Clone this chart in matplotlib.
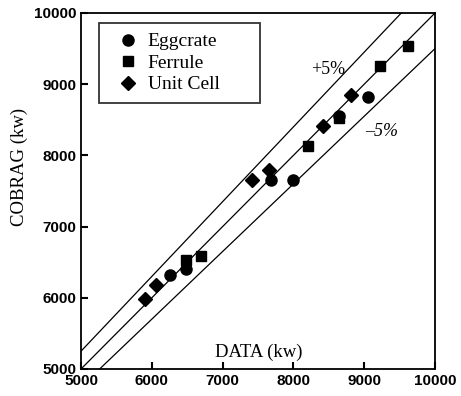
import matplotlib
matplotlib.use("Agg")
import matplotlib.pyplot as plt
import numpy as np

# Data (kW)
egg_x = [6250, 6480, 7690, 7990, 8650, 9060]
egg_y = [6320, 6410, 7650, 7650, 8550, 8820]
fer_x = [6490, 6700, 8200, 8640, 9230, 9620]
fer_y = [6530, 6590, 8130, 8520, 9260, 9530]
uc_x = [5900, 6060, 7410, 7660, 8420, 8810]
uc_y = [5980, 6180, 7660, 7800, 8410, 8850]

ticks = [5000, 6000, 7000, 8000, 9000, 10000]
ref_x = [5000, 10000]

serif = ["Liberation Serif", "DejaVu Serif"]
sans = ["Liberation Sans", "DejaVu Sans"]

fig = plt.figure(figsize=(4.61, 3.96), dpi=100)
ax = fig.add_axes([81/461, 1 - 369/396, (435-81)/461, (369-13)/396])

rx = np.array(ref_x, dtype=float)
ax.plot(rx, rx, color="black", lw=0.9)
ax.plot(rx, rx * 1.05, color="black", lw=0.9)
ax.plot(rx, rx * 0.95, color="black", lw=0.9)

ax.plot(egg_x, egg_y, "o", color="black", ms=8, label="Eggcrate", zorder=3)
ax.plot(fer_x, fer_y, "s", color="black", ms=7, label="Ferrule", zorder=3)
ax.plot(uc_x, uc_y, "D", color="black", ms=7, label="Unit Cell", zorder=3)

ax.set_xlim(5000, 10000)
ax.set_ylim(5000, 10000)
ax.set_xticks(ticks)
ax.set_yticks(ticks)
ax.tick_params(direction="in", length=5, width=1.5, labelsize=11)
for lab in ax.get_xticklabels() + ax.get_yticklabels():
    lab.set_family(sans)
    lab.set_fontweight("bold")
for s in ax.spines.values():
    s.set_linewidth(1.3)

ax.text(7515, 5240, "DATA (kw)", family=serif, fontsize=13.5, ha="center", va="center")
fig.text(19/461, 1 - 167/396, "COBRAG (kw)", family=serif, fontsize=13.5,
         rotation=90, ha="center", va="center")
ax.text(8490, 9210, "+5%", family=serif, fontsize=13, ha="center", va="center")
ax.text(9240, 8340, "\u20135%", family=serif, fontsize=13, style="italic",
        ha="center", va="center")

lx0 = (99 - 81) / 354
lw_ = (260 - 99) / 354
ly1 = 1 - (23 - 13) / 356
lh = (101 - 23) / 356
leg = ax.legend(loc="upper left", bbox_to_anchor=(lx0, ly1 - lh, lw_, lh), mode="expand",
                prop={"family": serif, "size": 14}, frameon=True, fancybox=False,
                borderpad=0.5, handletextpad=0.0, labelspacing=0.2, handlelength=2.0,
                borderaxespad=0)
leg.get_frame().set_edgecolor("black")
leg.get_frame().set_linewidth(1.3)

fig.savefig("out.png", dpi=100)
